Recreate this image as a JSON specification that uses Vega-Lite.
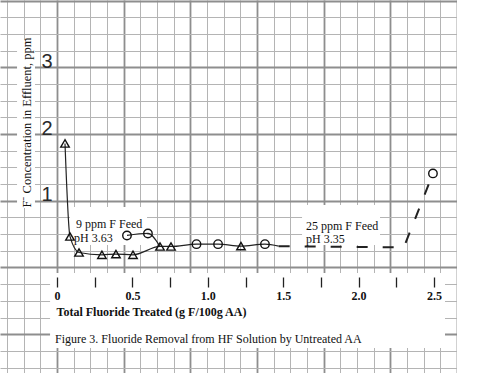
{
  "$schema": "https://vega.github.io/schema/vega-lite/v6.json",
  "width": 457,
  "height": 373,
  "padding": 0,
  "autosize": "none",
  "background": "white",
  "config": {"view": {"stroke": null}},
  "datasets": {
    "boxes": [
      {"x1": -0.046, "x2": 2.573, "y1": -0.082, "y2": -1.207},
      {"x1": -0.265, "x2": -0.146, "y1": 3.411, "y2": 0.892},
      {"x1": 0.086, "x2": 0.597, "y1": 0.907, "y2": 0.337},
      {"x1": 1.625, "x2": 2.142, "y1": 0.937, "y2": 0.337}
    ],
    "points": [
      {"x": 0.053, "y": 1.86, "m": "triangle"},
      {"x": 0.086, "y": 0.465, "m": "triangle"},
      {"x": 0.146, "y": 0.225, "m": "triangle"},
      {"x": 0.298, "y": 0.19, "m": "triangle"},
      {"x": 0.391, "y": 0.2, "m": "triangle"},
      {"x": 0.504, "y": 0.19, "m": "triangle"},
      {"x": 0.683, "y": 0.315, "m": "triangle"},
      {"x": 0.756, "y": 0.315, "m": "triangle"},
      {"x": 1.22, "y": 0.32, "m": "triangle"},
      {"x": 0.464, "y": 0.48, "m": "circle"},
      {"x": 0.603, "y": 0.51, "m": "circle"},
      {"x": 0.925, "y": 0.35, "m": "circle"},
      {"x": 1.068, "y": 0.35, "m": "circle"},
      {"x": 1.379, "y": 0.35, "m": "circle"},
      {"x": 2.493, "y": 1.41, "m": "circle"}
    ],
    "lines": [
      {"seg": "a", "x": 0.053, "y": 1.86},
      {"seg": "a", "x": 0.086, "y": 0.465},
      {"seg": "a", "x": 0.146, "y": 0.225},
      {"seg": "a", "x": 0.298, "y": 0.19},
      {"seg": "a", "x": 0.391, "y": 0.2},
      {"seg": "a", "x": 0.504, "y": 0.19},
      {"seg": "a", "x": 0.683, "y": 0.315},
      {"seg": "a", "x": 0.756, "y": 0.315},
      {"seg": "a", "x": 0.925, "y": 0.35},
      {"seg": "a", "x": 1.068, "y": 0.35},
      {"seg": "a", "x": 1.22, "y": 0.32},
      {"seg": "a", "x": 1.379, "y": 0.35},
      {"seg": "a", "x": 1.47, "y": 0.32},
      {"seg": "b", "x": 0.464, "y": 0.48},
      {"seg": "b", "x": 0.603, "y": 0.51},
      {"seg": "b", "x": 0.683, "y": 0.315},
      {"seg": "c", "x": 1.47, "y": 0.32},
      {"seg": "c", "x": 2.3, "y": 0.3},
      {"seg": "c", "x": 2.493, "y": 1.41}
    ],
    "notes": [
      {"x": 0.126, "y": 0.652, "t": "9 ppm F Feed"},
      {"x": 0.113, "y": 0.442, "t": "pH 3.63"},
      {"x": 1.651, "y": 0.622, "t": "25 ppm F Feed"},
      {"x": 1.651, "y": 0.427, "t": "pH 3.35"},
      {"x": -0.013, "y": -1.072, "t": "Figure 3. Fluoride Removal from HF Solution by Untreated AA"}
    ]
  },
  "resolve": {"axis": {"x": "independent", "y": "independent"}},
  "layer": [
    {
      "data": {"name": "boxes"},
      "mark": {"type": "rect", "fill": "white", "stroke": null},
      "encoding": {
        "x": {"field": "x1", "type": "quantitative",
          "scale": {"domain": [-0.378, 2.6525], "nice": false, "zero": false},
          "axis": {"orient": "bottom", "grid": true, "domain": false, "ticks": false, "labels": false, "title": null,
            "gridColor": "#b4b4b4", "gridWidth": 1,
            "values": [-0.3316, -0.221, -0.1105, 0.1105, 0.221, 0.3316, 0.5526, 0.6631, 0.7737, 0.9947, 1.1052, 1.2157, 1.4368, 1.5473, 1.6578, 1.8788, 1.9894, 2.0999, 2.3209, 2.4314, 2.542]}},
        "x2": {"field": "x2"},
        "y": {"field": "y1", "type": "quantitative",
          "scale": {"domain": [-1.582, 4.01], "nice": false, "zero": false},
          "axis": {"orient": "left", "grid": true, "domain": false, "ticks": false, "labels": false, "title": null,
            "gridColor": "#b4b4b4", "gridWidth": 1,
            "values": [-1.5, -1.25, -0.75, -0.5, -0.25, 0.25, 0.5, 0.75, 1.25, 1.5, 1.75, 2.25, 2.5, 2.75, 3.25, 3.5, 3.75]}},
        "y2": {"field": "y2"}
      }
    },
    {
      "mark": {"type": "rule", "stroke": "#2a2a2a", "strokeWidth": 1.5},
      "encoding": {
        "x": {"datum": 0, "type": "quantitative",
          "scale": {"domain": [-0.378, 2.6525], "nice": false, "zero": false},
          "axis": {"orient": "bottom", "grid": true, "domain": false, "ticks": false, "labels": false, "title": null,
            "gridColor": "#8e8e8e", "gridWidth": 1.8,
            "values": [0, 0.4421, 0.8842, 1.3262, 1.7683, 2.2104, 2.6525]}},
        "y": {"datum": 0, "type": "quantitative",
          "scale": {"domain": [-1.582, 4.01], "nice": false, "zero": false},
          "axis": {"orient": "left", "grid": true, "domain": false, "ticks": false, "labels": false, "title": null,
            "gridColor": "#8e8e8e", "gridWidth": 1.8,
            "values": [-1, 0, 1, 2, 3, 4]}},
        "y2": {"datum": 4.01}
      }
    },
    {
      "mark": {"type": "rule", "stroke": "#1a1a1a", "strokeWidth": 2.2},
      "encoding": {
        "x": {"datum": -0.027, "type": "quantitative",
          "scale": {"domain": [-0.378, 2.6525], "nice": false, "zero": false},
          "axis": {"orient": "bottom", "offset": -96, "zindex": 1, "grid": false, "domain": false,
            "values": [0, 0.25, 0.5, 0.75, 1, 1.25, 1.5, 1.75, 2, 2.25, 2.5],
            "ticks": true, "tickSize": 10, "tickWidth": 1.3, "tickColor": "#222222",
            "labelExpr": "datum.value == 0 ? '0' : (datum.value % 0.5 == 0 ? format(datum.value, '.1f') : '')",
            "labelFont": "Liberation Serif", "labelFontWeight": "bold", "labelFontSize": 12, "labelColor": "#111111",
            "labelPadding": 3, "labelFlush": false, "labelOverlap": false, "labelBound": false,
            "title": "Total Fluoride Treated (g F/100g AA)", "titleFont": "Liberation Serif", "titleFontWeight": "bold",
            "titleFontSize": 12, "titleColor": "#111111", "titleX": 56, "titleY": 34, "titleAlign": "left",
            "titleAnchor": "start", "titleBaseline": "middle"}},
        "x2": {"datum": 2.52},
        "y": {"datum": 0, "type": "quantitative",
          "scale": {"domain": [-1.582, 4.01], "nice": false, "zero": false},
          "axis": {"orient": "left", "offset": -57, "zindex": 1, "grid": false, "domain": false, "ticks": false,
            "values": [1, 2, 3], "labelPadding": 5, "labelFont": "Liberation Sans", "labelFontWeight": "normal",
            "labelFontSize": 20, "labelBaseline": "alphabetic", "labelColor": "#2a2a2a",
            "labelFlush": false, "labelOverlap": false,
            "title": "F⁻ Concentration in Effluent, ppm", "titleFont": "Liberation Serif", "titleFontSize": 12.5,
            "titleFontWeight": "normal", "titleColor": "#111111", "titleX": -31, "titleY": 122, "titleAngle": -90,
            "titleAlign": "center", "titleBaseline": "middle"}}
      }
    },
    {
      "mark": {"type": "rule", "stroke": "#333333", "strokeWidth": 1.2},
      "encoding": {
        "x": {"datum": 0, "type": "quantitative", "scale": {"domain": [-0.378, 2.6525], "nice": false, "zero": false}, "axis": null},
        "x2": {"datum": 2.5},
        "y": {"datum": -0.3, "type": "quantitative", "scale": {"domain": [-1.582, 4.01], "nice": false, "zero": false}, "axis": null}
      }
    },
    {
      "data": {"name": "lines"},
      "transform": [{"filter": "datum.seg != 'c'"}],
      "mark": {"type": "line", "stroke": "#222222", "strokeWidth": 1.2, "interpolate": "monotone"},
      "encoding": {
        "x": {"field": "x", "type": "quantitative", "scale": {"domain": [-0.378, 2.6525], "nice": false, "zero": false}, "axis": null},
        "y": {"field": "y", "type": "quantitative", "scale": {"domain": [-1.582, 4.01], "nice": false, "zero": false}, "axis": null},
        "detail": {"field": "seg"}
      }
    },
    {
      "data": {"name": "lines"},
      "transform": [{"filter": "datum.seg == 'c'"}],
      "mark": {"type": "line", "stroke": "#222222", "strokeWidth": 2, "strokeDash": [11, 15]},
      "encoding": {
        "x": {"field": "x", "type": "quantitative", "scale": {"domain": [-0.378, 2.6525], "nice": false, "zero": false}, "axis": null},
        "y": {"field": "y", "type": "quantitative", "scale": {"domain": [-1.582, 4.01], "nice": false, "zero": false}, "axis": null}
      }
    },
    {
      "data": {"name": "points"},
      "mark": {"type": "point", "filled": false, "stroke": "#111111", "strokeWidth": 1.4, "size": 72, "opacity": 1},
      "encoding": {
        "x": {"field": "x", "type": "quantitative", "scale": {"domain": [-0.378, 2.6525], "nice": false, "zero": false}, "axis": null},
        "y": {"field": "y", "type": "quantitative", "scale": {"domain": [-1.582, 4.01], "nice": false, "zero": false}, "axis": null},
        "shape": {"field": "m", "type": "nominal", "scale": {"domain": ["triangle", "circle"], "range": ["triangle-up", "circle"]}, "legend": null}
      }
    },
    {
      "data": {"name": "notes"},
      "mark": {"type": "text", "align": "left", "baseline": "middle", "font": "Liberation Serif", "fontSize": 12, "color": "#111111"},
      "encoding": {
        "x": {"field": "x", "type": "quantitative", "scale": {"domain": [-0.378, 2.6525], "nice": false, "zero": false}, "axis": null},
        "y": {"field": "y", "type": "quantitative", "scale": {"domain": [-1.582, 4.01], "nice": false, "zero": false}, "axis": null},
        "text": {"field": "t"}
      }
    }
  ]
}
